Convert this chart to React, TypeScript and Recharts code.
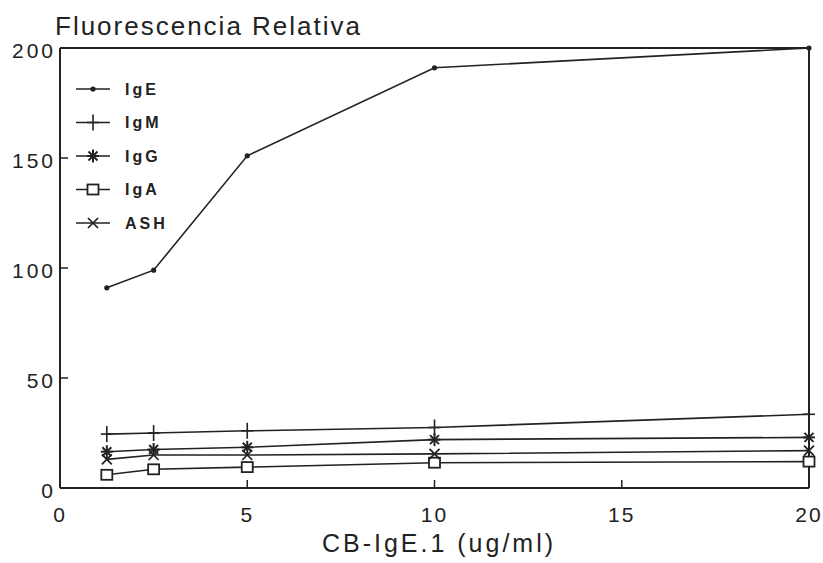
import { Legend, Line, LineChart, ReferenceLine, XAxis, YAxis } from "recharts";

// concentration of CB-IgE.1 (ug/ml)
const conc = [1.25, 2.5, 5, 10, 20];

// relative fluorescence per immunoglobulin
const ige = [91, 99, 151, 191, 200];
const igm = [24.5, 25, 26, 27.5, 33.5];
const igg = [16.5, 17.5, 18.5, 22, 23];
const iga = [6, 8.5, 9.5, 11.5, 12];
const ash = [13, 15, 15, 15.5, 17];

const xTicks = [0, 5, 10, 15, 20];
const yTicks = [0, 50, 100, 150, 200];

const series = ["IgE", "IgM", "IgG", "IgA", "ASH"];

const data = conc.map((x, i) => ({
  x,
  IgE: ige[i],
  IgM: igm[i],
  IgG: igg[i],
  IgA: iga[i],
  ASH: ash[i],
}));

const INK = "#222";
const FONT = '"Liberation Sans", Arial, sans-serif';

type Kind = "dot" | "plus" | "star" | "square" | "cross";

const markerOf: Record<string, Kind> = {
  IgE: "dot",
  IgM: "plus",
  IgG: "star",
  IgA: "square",
  ASH: "cross",
};

const Marker = ({ kind, cx, cy }: { kind: Kind; cx: number; cy: number }) => {
  if (cx == null || cy == null) return null;
  switch (kind) {
    case "dot":
      return <circle cx={cx} cy={cy} r={2.6} fill={INK} />;
    case "plus":
      return (
        <g stroke={INK} strokeWidth={1.6}>
          <line x1={cx} y1={cy - 8} x2={cx} y2={cy + 8} />
          <line x1={cx - 6} y1={cy} x2={cx + 6} y2={cy} />
        </g>
      );
    case "star":
      return (
        <g stroke={INK} strokeWidth={2}>
          <line x1={cx} y1={cy - 6.5} x2={cx} y2={cy + 6.5} />
          <line x1={cx - 6} y1={cy} x2={cx + 6} y2={cy} />
          <line x1={cx - 4.5} y1={cy - 4.5} x2={cx + 4.5} y2={cy + 4.5} />
          <line x1={cx - 4.5} y1={cy + 4.5} x2={cx + 4.5} y2={cy - 4.5} />
        </g>
      );
    case "square":
      return <rect x={cx - 5.5} y={cy - 5} width={11} height={10} fill="#fff" stroke={INK} strokeWidth={1.8} />;
    case "cross":
      return (
        <g stroke={INK} strokeWidth={1.7}>
          <line x1={cx - 5} y1={cy - 5} x2={cx + 5} y2={cy + 5} />
          <line x1={cx - 5} y1={cy + 5} x2={cx + 5} y2={cy - 5} />
        </g>
      );
  }
};

const XTick = (props: any) => {
  const { x, y, payload } = props;
  return (
    <g>
      <line x1={x} y1={y} x2={x} y2={y - 8} stroke={INK} strokeWidth={1.5} />
      <text x={x} y={y + 34} textAnchor="middle" fontSize={21} letterSpacing={2} fill={INK} fontFamily={FONT}>
        {payload.value}
      </text>
    </g>
  );
};

const YTick = (props: any) => {
  const { x, y, payload } = props;
  return (
    <g>
      <line x1={x} y1={y} x2={x + 8} y2={y} stroke={INK} strokeWidth={1.5} />
      <text x={x - 4} y={y + 9.8} textAnchor="end" fontSize={21} letterSpacing={3} fill={INK} fontFamily={FONT}>
        {payload.value}
      </text>
    </g>
  );
};

// legend drawn in the series order of the original figure
const LegendBox = () => (
  <svg width={130} height={230} style={{ overflow: "visible" }}>
    {series.map((name, i) => {
      const cy = 13 + 33.5 * i;
      return (
        <g key={name}>
          <line x1={8} y1={cy} x2={42} y2={cy} stroke={INK} strokeWidth={1.6} />
          <Marker kind={markerOf[name]} cx={25} cy={cy} />
          <text x={57} y={cy + 5.5} fontSize={16} fontWeight="bold" letterSpacing={3} fill={INK} fontFamily={FONT}>
            {name}
          </text>
        </g>
      );
    })}
  </svg>
);

const App = () => {
  return (
    <div style={{ position: "relative", width: 823, height: 563, fontFamily: FONT, background: "#fff" }}>
      <style>{"body{margin:0}"}</style>
      <svg width={420} height={48} style={{ position: "absolute", left: 0, top: 0 }}>
        <text x={55} y={35} fontSize={26} letterSpacing={2} fill={INK} fontFamily={FONT}>
          Fluorescencia Relativa
        </text>
      </svg>
      <LineChart width={823} height={563} data={data} margin={{ top: 48, right: 14, bottom: 0, left: 0 }}>
        <XAxis
          dataKey="x"
          type="number"
          domain={[0, 20]}
          ticks={xTicks}
          interval={0}
          height={75}
          tickSize={0}
          tickMargin={0}
          tickLine={false}
          tick={<XTick />}
          axisLine={{ stroke: INK, strokeWidth: 2 }}
          label={{
            content: ({ viewBox }: any) => (
              <text
                x={viewBox.x + viewBox.width / 2 + 4.5}
                y={viewBox.y + 64}
                textAnchor="middle"
                fontSize={25}
                letterSpacing={3}
                fill={INK}
                fontFamily={FONT}
              >
                CB-IgE.1 (ug/ml)
              </text>
            ),
          }}
        />
        <YAxis
          type="number"
          domain={[0, 200]}
          ticks={yTicks}
          interval={0}
          width={60}
          tickSize={0}
          tickMargin={0}
          tickLine={false}
          tick={<YTick />}
          axisLine={{ stroke: INK, strokeWidth: 2 }}
        />
        <ReferenceLine y={200} stroke={INK} strokeWidth={2} />
        <ReferenceLine x={20} stroke={INK} strokeWidth={2} />
        <Legend
          layout="vertical"
          align="center"
          verticalAlign="middle"
          content={<LegendBox />}
          wrapperStyle={{ left: 68, top: 76, width: 130, height: 230 }}
        />
        {series.map((name) => (
          <Line
            key={name}
            type="linear"
            dataKey={name}
            name={name}
            stroke={INK}
            strokeWidth={1.6}
            isAnimationActive={false}
            dot={(p: any) => <Marker key={`${name}-${p.index}`} kind={markerOf[name]} cx={p.cx} cy={p.cy} />}
            activeDot={false}
          />
        ))}
      </LineChart>
    </div>
  );
};

export default App;
